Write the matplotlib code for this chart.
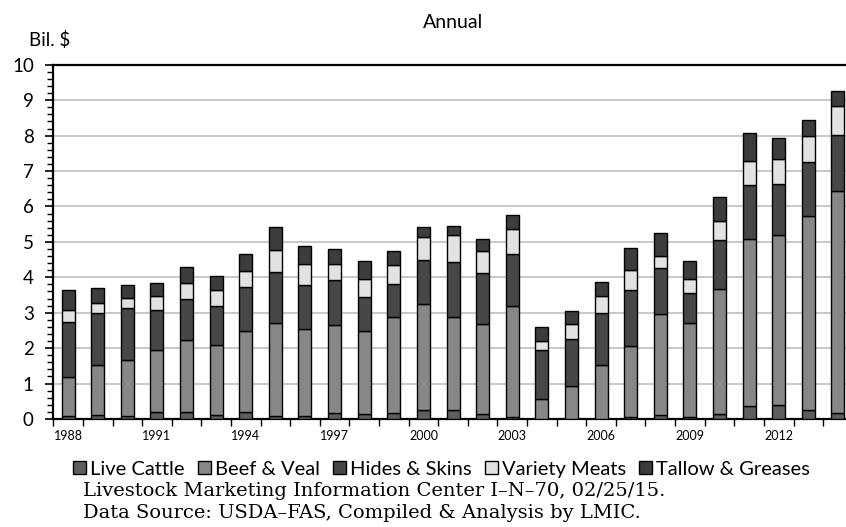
import matplotlib.pyplot as plt
import numpy as np

# U.S. beef & by-product exports, billion dollars, by year
years = list(range(1988, 2015))
live_cattle = [0.09, 0.12, 0.09, 0.19, 0.19, 0.12, 0.19, 0.09, 0.09, 0.16, 0.15, 0.16, 0.25, 0.25,
               0.13, 0.05, 0.00, 0.00, 0.00, 0.06, 0.11, 0.06, 0.15, 0.37, 0.40, 0.26, 0.17]
beef_veal = [1.09, 1.39, 1.57, 1.75, 2.05, 1.98, 2.30, 2.63, 2.44, 2.48, 2.33, 2.72, 2.99, 2.63,
             2.56, 3.15, 0.55, 0.94, 1.53, 1.99, 2.85, 2.66, 3.51, 4.72, 4.80, 5.46, 6.27]
hides_skins = [1.57, 1.47, 1.46, 1.15, 1.14, 1.10, 1.25, 1.43, 1.25, 1.27, 0.97, 0.93, 1.25, 1.55,
               1.42, 1.45, 1.41, 1.31, 1.45, 1.58, 1.31, 0.83, 1.38, 1.52, 1.43, 1.53, 1.57]
variety_meats = [0.34, 0.29, 0.29, 0.37, 0.45, 0.45, 0.45, 0.62, 0.60, 0.47, 0.49, 0.55, 0.64, 0.77,
                 0.63, 0.70, 0.24, 0.43, 0.50, 0.59, 0.33, 0.40, 0.54, 0.68, 0.70, 0.73, 0.84]
tallow_greases = [0.54, 0.43, 0.37, 0.37, 0.45, 0.40, 0.48, 0.64, 0.49, 0.43, 0.53, 0.37, 0.28, 0.25,
                  0.34, 0.40, 0.39, 0.36, 0.38, 0.60, 0.65, 0.50, 0.70, 0.79, 0.61, 0.45, 0.41]

series = [("Live Cattle", live_cattle, "#5e5e5e"),
          ("Beef & Veal", beef_veal, "#878787"),
          ("Hides & Skins", hides_skins, "#474747"),
          ("Variety Meats", variety_meats, "#e2e2e2"),
          ("Tallow & Greases", tallow_greases, "#3c3c3c")]

plt.rcParams['font.family'] = ['Lato', 'DejaVu Sans']

fig = plt.figure(figsize=(8.46, 5.27), dpi=100)
# right edge runs past the figure so the last bar is clipped
ax = fig.add_axes([0.063, 0.205, 0.945, 0.672])

bottom = np.zeros(len(years))
for name, vals, col in series:
    ax.bar(years, vals, width=0.44, bottom=bottom, color=col, edgecolor="black",
           linewidth=1.0, label=name, zorder=3)
    bottom += np.array(vals)

ax.set_ylim(0, 10)
ax.set_xlim(years[0] - 0.5, years[-1] + 0.5)
ax.set_yticks(range(0, 11))
ax.set_yticks(np.arange(0, 10.01, 0.2), minor=True)
ax.tick_params(axis="y", which="major", labelsize=13.5, length=6, width=1.2, pad=8)
ax.tick_params(axis="y", which="minor", length=4, width=1.0)
ax.yaxis.grid(True, color="#c4c4c4", linewidth=1.3, zorder=0)

ax.set_xticks(years[::3])
ax.set_xticklabels([str(y) for y in years[::3]])
ax.set_xticks([y - 0.5 for y in years], minor=True)
ax.tick_params(axis="x", which="major", length=0, labelsize=9, pad=8)
ax.tick_params(axis="x", which="minor", length=5, width=1.0)

for s in ax.spines.values():
    s.set_linewidth(1.6)

fig.text(0.535, 0.958, "Annual", fontsize=14, ha="center", va="center")
fig.text(0.034, 0.924, "Bil. $", fontsize=13.5, va="center")

fig.legend(loc="center", bbox_to_anchor=(0.522, 0.110), ncol=5, frameon=False,
           fontsize=14.5, handlelength=0.65, handleheight=0.65, handletextpad=0.2,
           columnspacing=0.65)

fig.text(0.098, 0.068, "Livestock Marketing Information Center I\u2013N\u201370, 02/25/15.",
         family="DejaVu Serif", fontsize=14, va="center")
fig.text(0.098, 0.027, "Data Source: USDA\u2013FAS, Compiled & Analysis by LMIC.",
         family="DejaVu Serif", fontsize=14, va="center")

fig.savefig("out.png", dpi=100)
